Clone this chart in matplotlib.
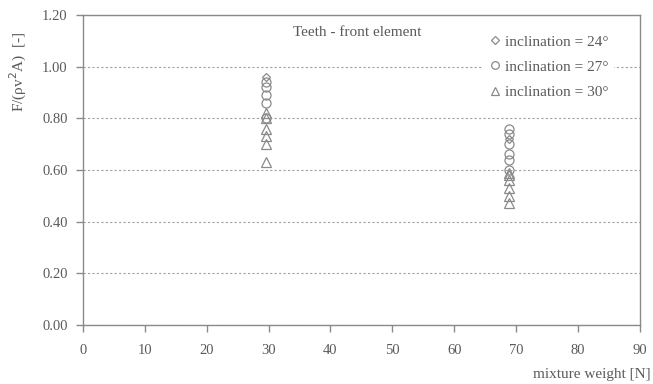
import matplotlib.pyplot as plt
from matplotlib.ticker import MultipleLocator

plt.rcParams['font.family'] = ['Liberation Serif', 'DejaVu Serif']

# mixture weight [N] and force coefficient for each inclination
x24 = [29.6, 68.8]
y24 = [0.96, 0.72]

x27 = [29.6, 29.6, 29.6, 29.6, 29.6, 68.8, 68.8, 68.8, 68.8, 68.8, 68.8]
y27 = [0.94, 0.92, 0.89, 0.86, 0.80, 0.76, 0.74, 0.70, 0.66, 0.64, 0.60]

x30 = [29.6, 29.6, 29.6, 29.6, 29.6, 29.6, 68.8, 68.8, 68.8, 68.8, 68.8, 68.8]
y30 = [0.82, 0.80, 0.76, 0.73, 0.70, 0.63, 0.59, 0.58, 0.56, 0.53, 0.50, 0.47]

labels = ['inclination = 24°', 'inclination = 27°', 'inclination = 30°']

grey = '#8a8a8a'
txt = '#5a5a5a'

fig = plt.figure(figsize=(6.53, 3.84), dpi=100)
ax = fig.add_axes([0.127, 0.154, 0.853, 0.807])

ax.plot(x24, y24, ls='none', marker='D', ms=4.5, mfc='none', mec=grey, mew=0.9, label=labels[0])
ax.plot(x27, y27, ls='none', marker='o', ms=6.5, mfc='none', mec=grey, mew=0.9, label=labels[1])
ax.plot(x30, y30, ls='none', marker='^', ms=6.5, mfc='none', mec=grey, mew=0.9, label=labels[2])

ax.set_xlim(0, 90)
ax.set_ylim(0, 1.2)
ax.xaxis.set_major_locator(MultipleLocator(10))
ax.yaxis.set_major_locator(MultipleLocator(0.2))
ax.yaxis.set_major_formatter(lambda v, p: f'{v:.2f}')

ax.grid(axis='y', color='#a0a0a0', ls=(0, (2, 2)), lw=0.8)
ax.set_axisbelow(True)
for s in ax.spines.values():
    s.set_color(grey)
    s.set_linewidth(1.0)

ax.tick_params(axis='both', direction='out', length=5, width=1, color=grey,
               labelcolor=txt, labelsize=10.5)
ax.tick_params(axis='x', pad=9)
ax.tick_params(axis='y', pad=6)

leg = ax.legend(loc='upper right', bbox_to_anchor=(0.965, 0.975), frameon=True,
                facecolor='white', edgecolor='white', framealpha=1,
                fontsize=11, handletextpad=0.15, handlelength=1.0,
                labelspacing=0.75, markerscale=0.85, borderpad=0.3)
for t in leg.get_texts():
    t.set_color(txt)

fig.text(357 / 653, 1 - 33 / 384, 'Teeth - front element', ha='center', va='center',
         color=txt, fontsize=11)
fig.text(0.028, 1 - 72 / 384, 'F/(ρv$^2$A)  [-]', rotation=90, ha='center', va='center',
         color=txt, fontsize=11)
fig.text(0.997, 0.025, 'mixture weight [N]', ha='right', va='center',
         color=txt, fontsize=11)

fig.savefig('out.png', dpi=100)
